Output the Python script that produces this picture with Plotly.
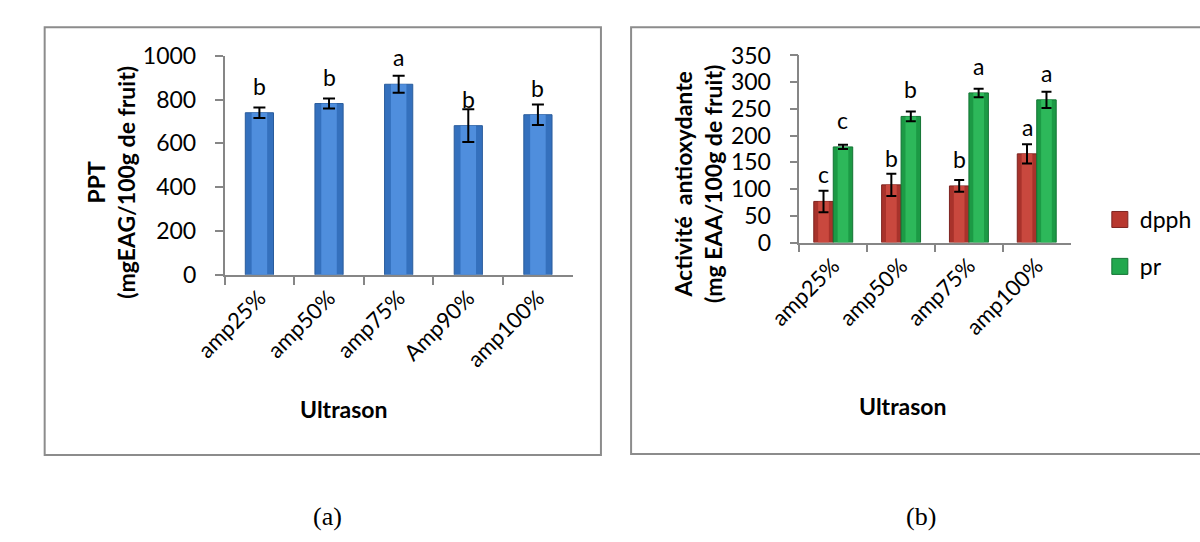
import plotly.graph_objects as go

# ---- data -------------------------------------------------------------
ppt_categories = ["amp25%", "amp50%", "amp75%", "Amp90%", "amp100%"]
ppt_values = [740, 782, 870, 681, 731]
ppt_errors = [24, 23, 39, 75, 47]
ppt_letters = ["b", "b", "a", "b", "b"]

aa_categories = ["amp25%", "amp50%", "amp75%", "amp100%"]
dpph_values = [77, 108, 106, 166]
dpph_errors = [20, 21, 11, 18]
dpph_letters = ["c", "b", "b", "a"]
pr_values = [179, 236, 280, 267]
pr_errors = [4, 9, 8, 15]
pr_letters = ["c", "b", "a", "a"]

# ---- page geometry (pixels -> paper fractions) -----------------------
W, H = 1200, 542


def px(x):
    return x / W


def py(y):
    return 1 - y / H


FONT = "Lato, 'Noto Sans', sans-serif"
AXIS_GREY = "#868686"

fig = go.Figure()

# ---- (a) PPT ----------------------------------------------------------
bw_a = 0.405
fig.add_trace(go.Bar(
    x=ppt_categories, y=ppt_values, width=bw_a, offset=-bw_a / 2,
    marker=dict(color="#3470BD", line=dict(color="#2A5C9C", width=1)),
    xaxis="x", yaxis="y", showlegend=False, hoverinfo="skip",
))
fig.add_trace(go.Bar(
    x=ppt_categories, y=ppt_values, width=bw_a * 0.55, offset=-bw_a * 0.55 / 2,
    marker=dict(color="#4F8EDD", line=dict(width=0)),
    error_y=dict(type="data", array=ppt_errors, color="black", thickness=2, width=6),
    xaxis="x", yaxis="y", showlegend=False,
))

# ---- (b) antioxidant activity ----------------------------------------
bw_b = 0.287
series_b = [
    ("dpph", dpph_values, dpph_errors, -bw_b, "#A8322B", "#7E2420", "#C9483E"),
    ("pr", pr_values, pr_errors, 0.0, "#1C9A45", "#137434", "#2DB85A"),
]
for name, vals, errs, off, col, edge, light in series_b:
    fig.add_trace(go.Bar(
        x=aa_categories, y=vals, width=bw_b, offset=off,
        marker=dict(color=col, line=dict(color=edge, width=1)),
        xaxis="x2", yaxis="y2", showlegend=False, hoverinfo="skip",
    ))
    fig.add_trace(go.Bar(
        x=aa_categories, y=vals, width=bw_b * 0.55,
        offset=off + bw_b * 0.225,
        marker=dict(color=light, line=dict(width=0)),
        error_y=dict(type="data", array=errs, color="black", thickness=2, width=5),
        xaxis="x2", yaxis="y2", showlegend=False, name=name,
    ))

# legend entries (square swatches)
for name, col, edge in [("dpph", "#B8382F", "#7E2420"), ("pr", "#22A84E", "#137434")]:
    fig.add_trace(go.Scatter(
        x=[None], y=[None], mode="markers", name=name, legendgroup=name,
        marker=dict(symbol="square", size=16, color=col, line=dict(color=edge, width=1)),
        xaxis="x2", yaxis="y2",
    ))

# ---- significance letters --------------------------------------------
annotations = []
for i, (v, t) in enumerate(zip(ppt_values, ppt_letters)):
    annotations.append(dict(
        x=i, y=v, xref="x", yref="y", text=t, showarrow=False,
        yanchor="bottom", yshift=11, font=dict(family=FONT, size=23, color="black"),
    ))
for vals, letters, off in [(dpph_values, dpph_letters, -bw_b), (pr_values, pr_letters, 0.0)]:
    for i, (v, t) in enumerate(zip(vals, letters)):
        annotations.append(dict(
            x=i + off + bw_b / 2, y=v, xref="x2", yref="y2", text=t, showarrow=False,
            yanchor="bottom", yshift=11, font=dict(family=FONT, size=23, color="black"),
        ))

# ---- axis titles and captions ----------------------------------------
title_font = dict(family=FONT, size=23, color="black", weight="bold")
annotations += [
    dict(x=px(80), y=py(176), xref="paper", yref="paper", showarrow=False,
         text="PPT<br>(mgEAG/100g de fruit)", textangle=-90, font=title_font,
         xanchor="center", yanchor="middle"),
    dict(x=px(320), y=py(415), xref="paper", yref="paper", showarrow=False,
         text="Ultrason", font=title_font, xanchor="center", yanchor="middle"),
    dict(x=px(684), y=py(178), xref="paper", yref="paper", showarrow=False,
         text="Activité  antioxydante<br>(mg EAA/100g de fruit)", textangle=-90,
         font=title_font, xanchor="center", yanchor="middle"),
    dict(x=px(895), y=py(412), xref="paper", yref="paper", showarrow=False,
         text="Ultrason", font=title_font, xanchor="center", yanchor="middle"),
    dict(x=px(303), y=py(529), xref="paper", yref="paper", showarrow=False,
         text="(a)", font=dict(family="Liberation Serif, serif", size=26, color="black"),
         xanchor="center", yanchor="middle"),
    dict(x=px(913), y=py(529), xref="paper", yref="paper", showarrow=False,
         text="(b)", font=dict(family="Liberation Serif, serif", size=26, color="black"),
         xanchor="center", yanchor="middle"),
]

# ---- chart frames ----------------------------------------------------
shapes = [
    dict(type="rect", xref="paper", yref="paper", x0=px(12), x1=px(584),
         y0=py(464), y1=py(13), line=dict(color="#8C8C8C", width=2)),
    dict(type="rect", xref="paper", yref="paper", x0=px(615), x1=px(1210),
         y0=py(463), y1=py(13), line=dict(color="#8C8C8C", width=2)),
]

tick_font = dict(family=FONT, size=23, color="black")
xcommon = dict(
    type="category", showline=True, linecolor=AXIS_GREY, linewidth=1.5,
    ticks="outside", tickson="boundaries", ticklen=8, tickcolor=AXIS_GREY,
    tickwidth=1.5, tickangle=-45, tickfont=dict(family=FONT, size=22, color="black"),
    showgrid=False, zeroline=False, fixedrange=True,
)
ycommon = dict(
    showline=True, linecolor=AXIS_GREY, linewidth=1.5, ticks="outside",
    ticklen=8, tickcolor=AXIS_GREY, tickwidth=1.5, tickfont=tick_font,
    showgrid=False, zeroline=False, ticklabelstandoff=14, fixedrange=True,
)

fig.update_layout(
    width=W, height=H,
    margin=dict(l=0, r=0, t=0, b=0),
    paper_bgcolor="white", plot_bgcolor="white",
    barmode="overlay",
    font=dict(family=FONT, color="black"),
    xaxis=dict(domain=[px(197), px(555)], anchor="y",
               range=[-0.5, len(ppt_categories) - 0.5], **xcommon),
    yaxis=dict(domain=[py(274), py(43)], anchor="x", range=[0, 1000],
               tickvals=[0, 200, 400, 600, 800, 1000], **ycommon),
    xaxis2=dict(domain=[px(788), px(1067)], anchor="y2",
                range=[-0.5, len(aa_categories) - 0.5], **xcommon),
    yaxis2=dict(domain=[py(240), py(42.7)], anchor="x2", range=[0, 350],
                tickvals=[0, 50, 100, 150, 200, 250, 300, 350], **ycommon),
    legend=dict(x=px(1097), y=py(193), xanchor="left", yanchor="top",
                font=dict(family=FONT, size=23, color="black"),
                tracegroupgap=14, itemsizing="trace", bgcolor="rgba(0,0,0,0)"),
    annotations=annotations,
    shapes=shapes,
)

fig.write_html("out.html")
